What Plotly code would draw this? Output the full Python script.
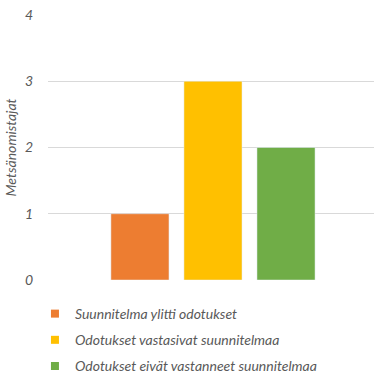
import plotly.graph_objects as go

# Survey answers: number of forest owners per outcome
series_names = [
    "Suunnitelma ylitti odotukset",
    "Odotukset vastasivat suunnitelmaa",
    "Odotukset eivät vastanneet suunnitelmaa",
]
series_values = [1, 3, 2]
series_colors = ["#ED7D31", "#FFC000", "#70AD47"]
category = [""]
y_ticks = [0, 1, 2, 3, 4]

TEXT = "#595959"
FONT = "Lato"
FS = 14

fig = go.Figure()
for i, (name, val, col) in enumerate(zip(series_names, series_values, series_colors)):
    fig.add_trace(go.Bar(
        x=category, y=[val], name=name, marker_color=col,
        showlegend=False, legendgroup=f"g{i}",
    ))
    # small square legend key
    fig.add_trace(go.Scatter(
        x=[None], y=[None], mode="markers", name=name,
        marker=dict(symbol="square", size=8, color=col),
        legendgroup=f"g{i}", showlegend=True,
    ))

fig.update_layout(
    width=374, height=374,
    margin=dict(l=48, r=0, t=15, b=94, autoexpand=False),
    paper_bgcolor="white", plot_bgcolor="white",
    barmode="group", bargap=0.336, bargroupgap=0.205,
    font=dict(family=FONT, color=TEXT, size=FS, style="italic"),
    showlegend=True,
    legend=dict(
        orientation="v", x=-0.04, xanchor="left", y=-0.068, yanchor="top",
        font=dict(family=FONT, size=FS, color=TEXT, style="italic"),
        tracegroupgap=5, itemclick=False, bgcolor="rgba(0,0,0,0)",
    ),
    xaxis=dict(type="category", range=[-0.5, 0.488], showgrid=False,
               showticklabels=False, zeroline=False, showline=False),
    yaxis=dict(range=[0, 4], tickvals=y_ticks, showgrid=True,
               gridcolor="#D9D9D9", gridwidth=1, zeroline=False,
               showline=False, ticklabelstandoff=14,
               tickfont=dict(family=FONT, size=FS, color=TEXT, style="italic"),
               title=dict(text="Metsänomistajat", standoff=4,
                          font=dict(family=FONT, size=FS, color=TEXT, style="italic"))),
)

fig.write_html("out.html")
